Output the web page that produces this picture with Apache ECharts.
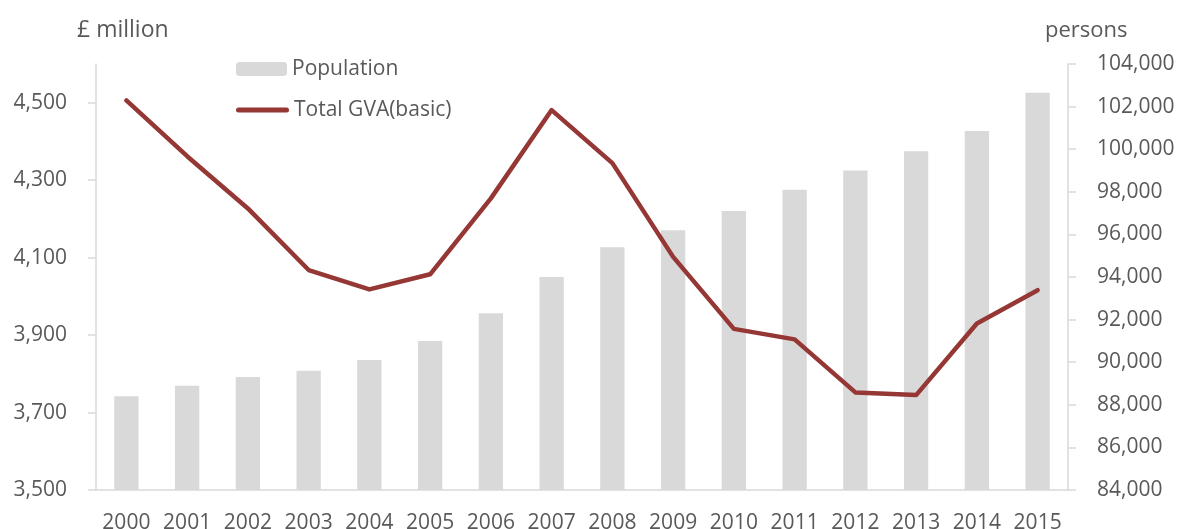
<!DOCTYPE html>
<html>
<head>
<meta charset="utf-8">
<script src="https://cdn.jsdelivr.net/npm/echarts@6/dist/echarts.min.js"></script>
<style>
html,body{margin:0;padding:0;background:#fff;}
#c{width:1177px;height:529px;}
</style>
</head>
<body>
<div id="c"></div>
<script>
const years = ['2000','2001','2002','2003','2004','2005','2006','2007','2008','2009','2010','2011','2012','2013','2014','2015'];
const population = [88400, 88900, 89300, 89600, 90100, 91000, 92300, 94000, 95400, 96200, 97100, 98100, 99000, 99900, 100850, 102650];
const gva = [4506, 4362, 4227, 4068, 4018, 4057, 4253, 4481, 4344, 4102, 3916, 3889, 3752, 3745, 3930, 4016];
const leftTicks = [3500, 3700, 3900, 4100, 4300, 4500];
const leftTitle = '£ million';
const rightTitle = 'persons';

const FONT = '"Open Sans", "Noto Sans", sans-serif';
const TXT = '#595959';
const AX = '#d9d9d9';
const fmt = v => Number(v).toLocaleString('en-GB');
const lineIcon = 'path://M2.5,0H50.5A2.5,2.5,0,0,1,50.5,5H2.5A2.5,2.5,0,0,1,2.5,0Z';

const chart = echarts.init(document.getElementById('c'), null, {renderer: 'canvas'});
chart.setOption({
  animation: false,
  backgroundColor: '#fff',
  textStyle: {fontFamily: FONT},
  grid: {left: 96, right: 109, top: 64, bottom: 39, containLabel: false, outerBoundsMode: 'none'},
  legend: [
    {data: ['Population'], left: 236, top: 57, padding: 0, itemWidth: 51, itemHeight: 14,
     textStyle: {color: TXT, fontSize: 21, fontFamily: FONT, lineHeight: 24}},
    {data: [{name: 'Total GVA(basic)', icon: lineIcon}], left: 236, top: 98, padding: 0, itemWidth: 53, itemHeight: 5,
     itemStyle: {color: '#953735'},
     textStyle: {color: TXT, fontSize: 21, fontFamily: FONT, lineHeight: 24}}
  ],
  graphic: [
    {type: 'text', left: 77, top: 19, style: {text: leftTitle, fill: TXT, font: '23px ' + FONT}},
    {type: 'text', left: 1045, top: 20, style: {text: rightTitle, fill: TXT, font: '22px ' + FONT}}
  ],
  xAxis: {
    type: 'category', data: years,
    axisLine: {show: true, lineStyle: {color: AX, width: 1.5}},
    axisTick: {show: false},
    axisLabel: {color: TXT, fontSize: 21, fontFamily: FONT, margin: 23, interval: 0}
  },
  yAxis: [
    {
      type: 'value', min: 3500, max: 4600, interval: 100, position: 'left',
      axisLine: {show: true, lineStyle: {color: AX, width: 1.5}},
      axisTick: {show: true, length: 8, customValues: leftTicks, lineStyle: {color: AX, width: 1.5}},
      axisLabel: {color: TXT, fontSize: 21, fontFamily: FONT, margin: 29, customValues: leftTicks, formatter: fmt},
      splitLine: {show: false}
    },
    {
      type: 'value', min: 84000, max: 104000, interval: 2000, position: 'right',
      axisLine: {show: true, lineStyle: {color: AX, width: 1.5}},
      axisTick: {show: true, length: 8, lineStyle: {color: AX, width: 1.5}},
      axisLabel: {color: TXT, fontSize: 21, fontFamily: FONT, margin: 29, formatter: fmt},
      splitLine: {show: false}
    }
  ],
  series: [
    {
      name: 'Population', type: 'bar', yAxisIndex: 1, data: population,
      barWidth: '40%', itemStyle: {color: '#d9d9d9'}
    },
    {
      name: 'Total GVA(basic)', type: 'line', yAxisIndex: 0, data: gva,
      symbol: 'none', showSymbol: false,
      lineStyle: {color: '#953735', width: 4.5, cap: 'round', join: 'round'},
      itemStyle: {color: '#953735'}
    }
  ]
});
</script>
</body>
</html>
